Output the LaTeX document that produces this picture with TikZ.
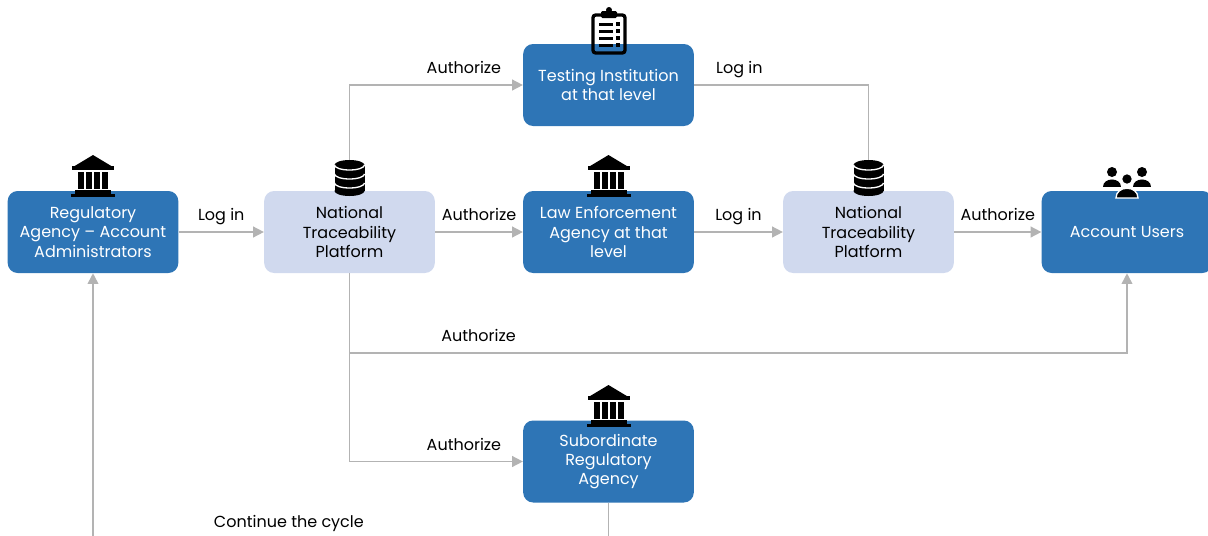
\documentclass[tikz,border=0pt]{standalone}
\usepackage{fontspec}
\setmainfont{Poppins}
\usepackage{tikz}
\usetikzlibrary{arrows.meta}
\definecolor{boxblue}{HTML}{2E75B6}
\definecolor{boxpale}{HTML}{D0D9EE}
\definecolor{linegray}{HTML}{B3B3B3}
\newcommand{\boxfont}{\fontsize{12}{14.4}\selectfont}
\tikzset{
  darkbox/.style={fill=boxblue, text=white, rounded corners=7.5pt,
    minimum width=128pt, minimum height=61.5pt, inner sep=0pt,
    align=center, font=\boxfont},
  palebox/.style={darkbox, fill=boxpale, text=black},
  flowline/.style={draw=linegray, line width=1.2pt,
    -{Triangle[length=8pt,width=8pt]}},
  lbl/.style={font=\boxfont, inner sep=0pt, text height=9pt,
    text depth=2.8pt, above=5pt, text=black},
  bankicon/.pic={
    \fill (-20,-30) -- (0,-42) -- (20,-30) -- cycle;
    \fill (-21,-31) rectangle (21,-27);
    \foreach \cx in {-12,-4,4,12} \fill (\cx-3,-25) rectangle (\cx+3,-8);
    \fill (-18,-7) rectangle (18,-3);
    \fill (-22,-3) rectangle (22,0);
  },
  dbicon/.pic={
    \fill (-15,-31) rectangle (15,-5);
    \fill (0,-31) ellipse (15 and 5);
    \fill (0,-5) ellipse (15 and 5);
    \foreach \dy in {-31,-22,-13}
      \draw[white, line width=1pt] (-15,\dy) arc (180:0:15 and 5);
  },
  clipicon/.pic={
    \draw[line width=2.5pt, rounded corners=2pt] (-16,-2) rectangle (16,-40);
    \fill[rounded corners=1pt] (-8,-44) rectangle (8,-37);
    \fill (0,-45) circle (3);
    \foreach \ly in {-31,-24,-17,-10} {
      \fill (-10,\ly-1.5) rectangle (4,\ly+1.5);
      \fill (7,\ly-2) rectangle (11,\ly+2);
    }
  },
  usersicon/.pic={
    \foreach \cx in {-15,15} {
      \fill (\cx,-26) circle (5);
      \fill (\cx-9,-11) .. controls (\cx-9,-21) and (\cx+9,-21) .. (\cx+9,-11) -- cycle;
    }
    \filldraw[draw=white, line width=1pt] (0,-19) circle (5.5);
    \filldraw[draw=white, line width=1pt] (-11,0) .. controls (-11,-13) and (11,-13) .. (11,0) -- cycle;
  }
}

\begin{document}
\begin{tikzpicture}[x=0.75pt, y=-0.75pt]
  \clip (0,0) rectangle (1208,536);
  % boxes
  \node[darkbox] (reg) at (93,232) {Regulatory\\Agency – Account\\Administrators};
  \node[palebox] (ntpa) at (349.5,232) {National\\Traceability\\Platform};
  \node[darkbox] (test) at (608.5,85) {Testing Institution\\at that level};
  \node[darkbox] (law) at (608.5,232) {Law Enforcement\\Agency at that\\level};
  \node[palebox] (ntpb) at (868.5,232) {National\\Traceability\\Platform};
  \node[darkbox] (users) at (1127,232) {Account Users};
  \node[darkbox] (subord) at (608.5,461.5) {Subordinate\\Regulatory\\Agency};
  \coordinate (split) at (349.5,353);
  % connectors
  \draw[flowline] (reg) -- node[lbl] {Log in} (ntpa);
  \draw[flowline] (ntpa.north) |- node[lbl, pos=0.83] {Authorize} (test.west);
  \draw[flowline] (ntpa) -- node[lbl] {Authorize} (law);
  \draw[flowline] (test.east) -| node[lbl, pos=0.13] {Log in} (ntpb.north);
  \draw[flowline] (law) -- node[lbl] {Log in} (ntpb);
  \draw[flowline] (ntpb) -- node[lbl] {Authorize} (users);
  \draw[flowline] (ntpa.south) |- node[lbl, pos=0.83] {Authorize} (subord.west);
  \draw[flowline] (split) -| node[lbl, pos=0.083] {Authorize} (users.south);
  \draw[flowline] (subord.south) -- ++(0,36) -| node[lbl, pos=0.31] {Continue the cycle} (reg.south);
  % icons
  \pic at (93,197) {bankicon};
  \pic at (349.5,196) {dbicon};
  \pic at (609,55) {clipicon};
  \pic at (608.5,197) {bankicon};
  \pic at (868.5,196) {dbicon};
  \pic at (1127,198) {usersicon};
  \pic at (608.5,427) {bankicon};
\end{tikzpicture}
\end{document}
